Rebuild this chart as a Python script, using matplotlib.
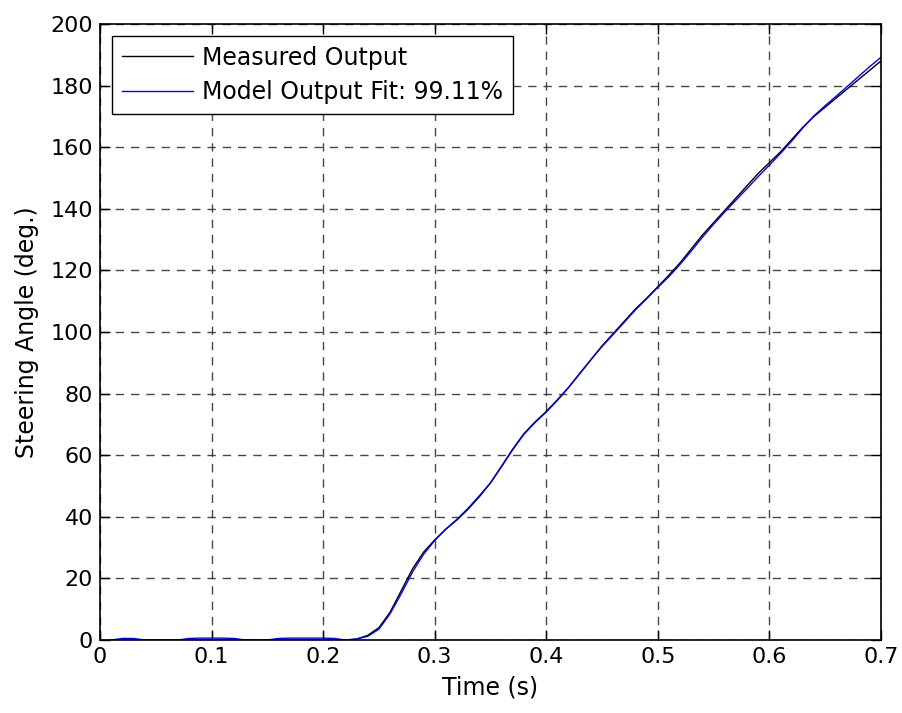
import matplotlib
matplotlib.use("Agg")
import matplotlib.pyplot as plt

plt.rcParams["font.family"] = ["DejaVu Sans"]

time_s = [round(0.01 * i, 2) for i in range(1, 71)]

measured = [
    0, 0, 0, 0, 0, 0, 0, 0, 0, 0,
    0, 0, 0, 0, 0, 0, 0, 0, 0, 0,
    0, 0, 0.3, 1.5, 4, 9, 16, 23, 28.5, 32.5,
    36, 39, 42.5, 46.5, 51, 56.5, 62, 67, 70.8, 74.2,
    78, 82, 86.5, 91, 95.5, 99.5, 103.5, 107.5, 111, 114.7,
    118.5, 122.5, 127, 131.5, 135.5, 139.5, 143.5, 147.5, 151.5, 155,
    158.5, 162.5, 166.5, 170, 173, 176, 179, 182, 185, 188,
]

model = [
    0, 0.5, 0.5, 0, 0, 0, 0, 0.5, 0.6, 0.6,
    0.6, 0.5, 0, 0, 0, 0.5, 0.6, 0.6, 0.6, 0.6,
    0.5, 0, 0.3, 1.2, 3.5, 8.5, 15, 22, 27.8, 32.3,
    36, 39.2, 42.8, 46.8, 51, 56.3, 61.8, 66.8, 70.6, 74,
    77.8, 82, 86.5, 91, 95.3, 99.2, 103.2, 107.2, 110.8, 114.5,
    118, 122, 126.3, 130.8, 135, 139, 142.8, 146.6, 150.5, 154.2,
    158, 162, 166.3, 170.2, 173.5, 176.6, 179.8, 183, 186.2, 189.2,
]

fit_pct = 99.11
x_ticks = [0, 0.1, 0.2, 0.3, 0.4, 0.5, 0.6, 0.7]
y_ticks = list(range(0, 201, 20))

fig = plt.figure(figsize=(9.03, 7.13), dpi=100)
ax = fig.add_axes([0.1107, 0.1024, 0.8649, 0.8639])

ax.plot(time_s, measured, color="black", linewidth=1.0, label="Measured Output")
ax.plot(time_s, model, color="#0000ff", linewidth=1.0,
        label=f"Model Output Fit: {fit_pct:.2f}%")

ax.set_xlim(0, 0.7)
ax.set_ylim(0, 200)
ax.set_xticks(x_ticks)
ax.set_xticklabels(["0", "0.1", "0.2", "0.3", "0.4", "0.5", "0.6", "0.7"])
ax.set_yticks(y_ticks)
ax.tick_params(direction="in", top=True, right=True, length=7, width=1,
               labelsize=16, pad=5)
ax.grid(True, color="#333333", linestyle=(0, (6, 5)), linewidth=1.0, alpha=0.9)
for spine in ax.spines.values():
    spine.set_linewidth(1.2)

ax.set_xlabel("Time (s)", fontsize=17, labelpad=6)
ax.set_ylabel("Steering Angle (deg.)", fontsize=17, labelpad=8)

leg = ax.legend(loc="upper left", fontsize=17,
                frameon=True, fancybox=False, handlelength=3.0,
                borderaxespad=0.5, borderpad=0.42, labelspacing=0.45,
                handletextpad=0.4)
leg.get_frame().set_edgecolor("black")
leg.get_frame().set_linewidth(1.0)
leg.get_frame().set_alpha(1.0)

fig.savefig("out.png", dpi=100)
